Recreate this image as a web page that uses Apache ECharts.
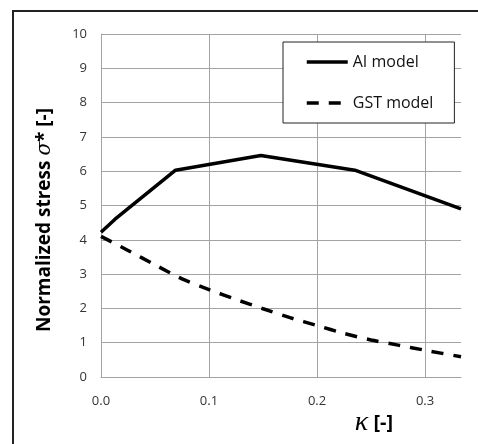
<!DOCTYPE html>
<html>
<head>
<meta charset="utf-8">
<script src="https://cdn.jsdelivr.net/npm/echarts@6/dist/echarts.min.js"></script>
<style>html,body{margin:0;padding:0;background:#fff;}#c{width:478px;height:444px;}</style>
</head>
<body>
<div id="c"></div>
<script>
const xTicks = [0, 0.1, 0.2, 0.3];
const yTicks = [0, 1, 2, 3, 4, 5, 6, 7, 8, 9, 10];
const aiKappa = [0, 0.013, 0.069, 0.148, 0.235, 0.3333];
const aiStress = [4.22, 4.6, 6.03, 6.46, 6.03, 4.9];
const gstKappa = [0, 0.025, 0.05, 0.075, 0.1, 0.125, 0.15, 0.175, 0.2, 0.225, 0.25, 0.275, 0.3, 0.3333];
const gstStress = [4.1, 3.69, 3.27, 2.86, 2.55, 2.26, 1.99, 1.73, 1.50, 1.27, 1.08, 0.93, 0.78, 0.59];
const seriesNames = ['AI model', 'GST model'];

const chart = echarts.init(document.getElementById('c'), null, {renderer: 'canvas'});
const grid = '#a3a3a3';
chart.setOption({
  animation: false,
  backgroundColor: '#fff',
  grid: {left: 101, top: 34, right: 17, bottom: 67},
  legend: {
    orient: 'vertical', left: 283, top: 42,
    data: seriesNames,
    backgroundColor: '#fff', borderColor: '#222', borderWidth: 1,
    padding: [12, 21, 12, 22], itemGap: 25,
    itemWidth: 41, itemHeight: 16,
    itemStyle: {opacity: 0},
    lineStyle: {width: 3.5},
    textStyle: {fontFamily: 'Open Sans', fontSize: 16, color: '#111'}
  },
  xAxis: {
    type: 'value', min: xTicks[0], max: 0.3333, interval: 0.1,
    axisLine: {show: true, lineStyle: {color: grid, width: 1}},
    axisTick: {show: false},
    splitLine: {show: true, showMaxLine: false, lineStyle: {color: grid, width: 1}},
    axisLabel: {formatter: v => v.toFixed(1), showMaxLabel: false, margin: 18,
      fontFamily: 'Open Sans', fontSize: 13, color: '#333'}
  },
  yAxis: {
    type: 'value', min: yTicks[0], max: yTicks[yTicks.length - 1], interval: 1,
    axisLine: {show: true, lineStyle: {color: grid, width: 1}},
    axisTick: {show: false},
    splitLine: {show: true, lineStyle: {color: grid, width: 1}},
    axisLabel: {margin: 14, fontFamily: 'Open Sans', fontSize: 13, color: '#333'}
  },
  series: [
    {name: seriesNames[0], type: 'line', showSymbol: false, symbol: 'none',
     data: aiKappa.map((k, i) => [k, aiStress[i]]),
     lineStyle: {color: '#000', width: 3.5}, itemStyle: {color: '#000'}},
    {name: seriesNames[1], type: 'line', showSymbol: false, symbol: 'none', smooth: 0.2,
     data: gstKappa.map((k, i) => [k, gstStress[i]]),
     lineStyle: {color: '#000', width: 3.5, type: [12, 10]}, itemStyle: {color: '#000'}}
  ],
  graphic: [
    {type: 'rect', silent: true, z: -10, shape: {x: 13, y: 11, width: 800, height: 800},
     style: {fill: 'none', stroke: '#222', lineWidth: 2}},
    {type: 'text', x: 45, y: 220, rotation: Math.PI / 2,
     style: {text: '{a|Normalized stress }{s|σ}{a|* [-]}', align: 'center', verticalAlign: 'middle',
       rich: {a: {fontFamily: 'Open Sans', fontWeight: 'bold', fontSize: 19, fill: '#000'},
              s: {fontFamily: 'DejaVu Serif', fontStyle: 'italic', fontSize: 20, fill: '#000'}}}},
    {type: 'text', x: 374, y: 423,
     style: {text: '{k|κ}{a| [-]}', align: 'center', verticalAlign: 'middle',
       rich: {k: {fontFamily: 'Liberation Serif', fontStyle: 'italic', fontSize: 28, fill: '#000'},
              a: {fontFamily: 'Open Sans', fontWeight: 'bold', fontSize: 20, fill: '#000'}}}}
  ]
});
</script>
</body>
</html>
